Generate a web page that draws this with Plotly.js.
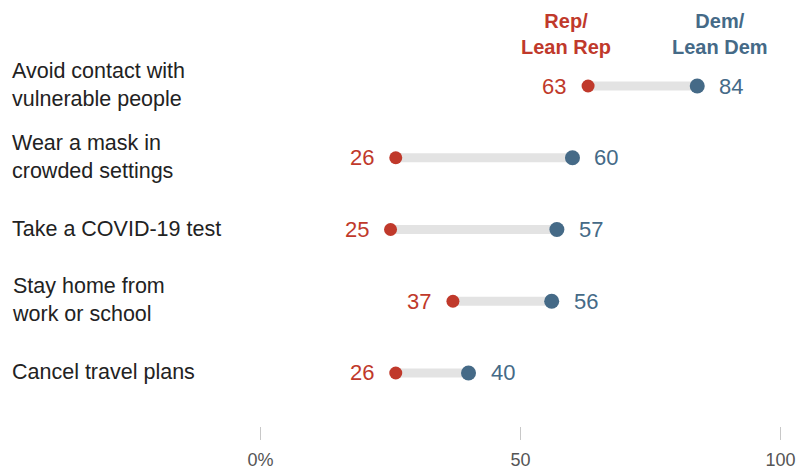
<!DOCTYPE html>
<html><head><meta charset="utf-8">
<script src="https://cdn.plot.ly/plotly-3.0.1.min.js"></script>
<style>body{margin:0;background:#fff}#c{width:810px;height:473px}</style>
</head><body><div id="c"></div>
<script>
const categories = ["Avoid contact with<br>vulnerable people","Wear a mask in<br>crowded settings","Take a COVID-19 test","Stay home from<br>work or school","Cancel travel plans"];
const rep = [63, 26, 25, 37, 26];
const dem = [84, 60, 57, 56, 40];
const tickVals = [0, 50, 100];
const tickText = ["0%", "50", "100"];

const RED = "#C0392B", BLUE = "#456A87", GRAY = "#E3E3E3";
const FONT = "Liberation Sans";
const ys = categories.map((c, i) => i);

const lx = [], ly = [];
rep.forEach((r, i) => { lx.push(r, dem[i], null); ly.push(i, i, null); });

const traces = [
  {x: lx, y: ly, mode: "lines", line: {color: GRAY, width: 9}, hoverinfo: "skip", showlegend: false},
  {x: rep, y: ys, mode: "markers", marker: {color: RED, size: 13}, showlegend: false},
  {x: dem, y: ys, mode: "markers", marker: {color: BLUE, size: 15}, showlegend: false}
];

const L = 245, PW = 551.2;
const ann = [];
categories.forEach((c, i) => {
  ann.push({xref: "paper", yref: "y", x: (10 - L)/PW, y: i, yshift: 1, text: c, showarrow: false, xanchor: "left", align: "left",
    font: {family: FONT, size: 21.5, color: "#222"}});
  ann.push({xref: "x", yref: "y", x: rep[i], y: i, text: String(rep[i]), showarrow: false, xanchor: "right", xshift: -20,
    font: {family: FONT, size: 22, color: RED}});
  ann.push({xref: "x", yref: "y", x: dem[i], y: i, text: String(dem[i]), showarrow: false, xanchor: "left", xshift: 20,
    font: {family: FONT, size: 22, color: BLUE}});
});
ann.push({xref: "x", yref: "y", x: 58.8, y: -0.72, text: "<b>Rep/<br>Lean Rep</b>", showarrow: false,
  font: {family: FONT, size: 20, color: RED}, align: "center"});
ann.push({xref: "x", yref: "y", x: 88.3, y: -0.72, text: "<b>Dem/<br>Lean Dem</b>", showarrow: false,
  font: {family: FONT, size: 20, color: BLUE}, align: "center"});

const layout = {
  width: 810, height: 473,
  margin: {l: L, r: 810 - L - PW, t: 0, b: 33},
  paper_bgcolor: "#fff", plot_bgcolor: "#fff",
  xaxis: {range: [-3, 103], tickvals: tickVals, ticktext: tickText, ticks: "inside", ticklen: 13, tickcolor: "#c8c8c8",
    showgrid: false, zeroline: false, showline: false, tickfont: {family: FONT, size: 18, color: "#555"}, ticklabelstandoff: 7, fixedrange: true},
  yaxis: {range: [4.934, -1.199], showticklabels: false, showgrid: false, zeroline: false, showline: false, ticks: ""},
  annotations: ann,
  showlegend: false
};
Plotly.newPlot("c", traces, layout, {displayModeBar: false, staticPlot: true});
</script></body></html>
